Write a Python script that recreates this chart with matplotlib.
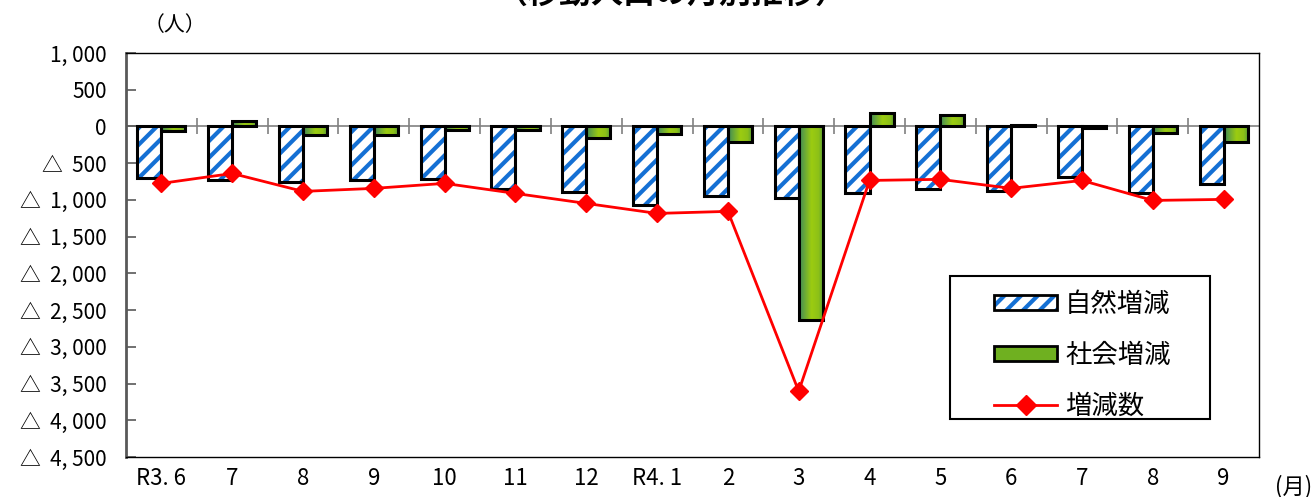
import matplotlib
matplotlib.use('Agg')
import matplotlib.pyplot as plt
from matplotlib.colors import LinearSegmentedColormap
from matplotlib.patches import Patch, Rectangle
from matplotlib.lines import Line2D
import numpy as np

plt.rcParams['font.family'] = ['Noto Sans CJK JP', 'DejaVu Sans']
plt.rcParams['hatch.linewidth'] = 3.0

# data (persons)
months = ['R3. 6', '7', '8', '9', '10', '11', '12', 'R4. 1', '2', '3', '4', '5', '6', '7', '8', '9']
natural = [-707, -735, -762, -735, -720, -857, -898, -1075, -952, -980, -912, -857, -884, -694, -912, -789]
social = [-60, 80, -112, -110, -50, -45, -163, -109, -218, -2640, 177, 150, 25, -20, -85, -205]
total = [-775, -640, -884, -843, -775, -912, -1048, -1184, -1156, -3605, -735, -720, -843, -735, -1007, -993]

yticks = [1000, 500, 0, -500, -1000, -1500, -2000, -2500, -3000, -3500, -4000, -4500]

def ylab(v):
    s = '{:,}'.format(abs(v)).replace(',', ', ')
    return s if v >= 0 else '△  ' + s

fig = plt.figure(figsize=(13.14, 4.97), dpi=100)
ax = fig.add_axes([126/1314, 40/497, 1133/1314, 404/497])

x = np.arange(len(months))
w = 0.34
blue = '#1470d4'

# natural change: white with blue stripes, black frame
ax.bar(x, natural, width=-w, align='edge', color='white', edgecolor=blue, hatch='//', lw=0, zorder=2)
ax.bar(x, natural, width=-w, align='edge', fill=False, edgecolor='black', lw=2.2, zorder=3)

# social change: green gradient, black frame
gcm = LinearSegmentedColormap.from_list('g', [(0, '#3f8a5a'), (0.5, '#9ccc10'), (0.8, '#8cc018'), (1, '#4f9a3a')])
grad = np.linspace(0, 1, 64).reshape(1, -1)
for xi, v in zip(x, social):
    ax.imshow(grad, extent=[xi, xi + w, min(0, v), max(0, v)], aspect='auto', cmap=gcm, zorder=2)
ax.bar(x, social, width=w, align='edge', fill=False, edgecolor='black', lw=2.2, zorder=3)

# zero line with category ticks
ax.axhline(0, color='#808080', lw=1.2, zorder=1)
ax.plot(x[:-1] + 0.5, np.zeros(len(x) - 1), ls='none', marker='|', ms=11, mew=1.2, color='#808080', zorder=1)

ax.plot(x, total, color='#ff0000', lw=2, marker='D', ms=9, zorder=4)

ax.set_xlim(-0.5, len(months) - 0.5)
ax.set_ylim(-4500, 1000)
ax.set_yticks(yticks)
ax.set_yticklabels([ylab(v) for v in yticks], fontsize=15)
ax.set_xticks(x)
ax.set_xticklabels(months, fontsize=16)
ax.tick_params(axis='y', direction='in', length=7, color='#595959', width=1.2, pad=14)
ax.tick_params(axis='x', length=0, pad=7)

for s in ['top', 'right', 'bottom']:
    ax.spines[s].set_color('black')
    ax.spines[s].set_linewidth(1)
ax.spines['left'].set_color('#595959')
ax.spines['left'].set_linewidth(2)

# legend
ax.add_patch(Rectangle((0.727, 0.094), 0.23, 0.353, transform=ax.transAxes,
                       facecolor='white', edgecolor='black', lw=1.5, zorder=5))
h_nat = (Patch(facecolor='white', edgecolor=blue, hatch='//', lw=0),
         Patch(fill=False, edgecolor='black', lw=2))
h_soc = Patch(facecolor='#6fb020', edgecolor='black', lw=2)
h_tot = Line2D([], [], color='#ff0000', lw=2, marker='D', ms=10)
leg = ax.legend([h_nat, h_soc, h_tot], ['自然増減', '社会増減', '増減数'], loc='upper left',
                bbox_to_anchor=(0.745, 0.47), frameon=False, fontsize=19,
                handlelength=2.4, handleheight=0.5, handletextpad=0.3, labelspacing=0.9)
leg.set_zorder(6)

fig.text(175/1314, 1 - 25/497, '（人）', fontsize=15, ha='center', va='center')
fig.text(1312/1314, 1 - 487/497, '(月)', fontsize=16, ha='right', va='center')
fig.text(672/1314, 1.012, '（移動人口の月別推移）', fontsize=23, fontweight='bold', ha='center', va='center')

fig.savefig('out.png', dpi=100)
